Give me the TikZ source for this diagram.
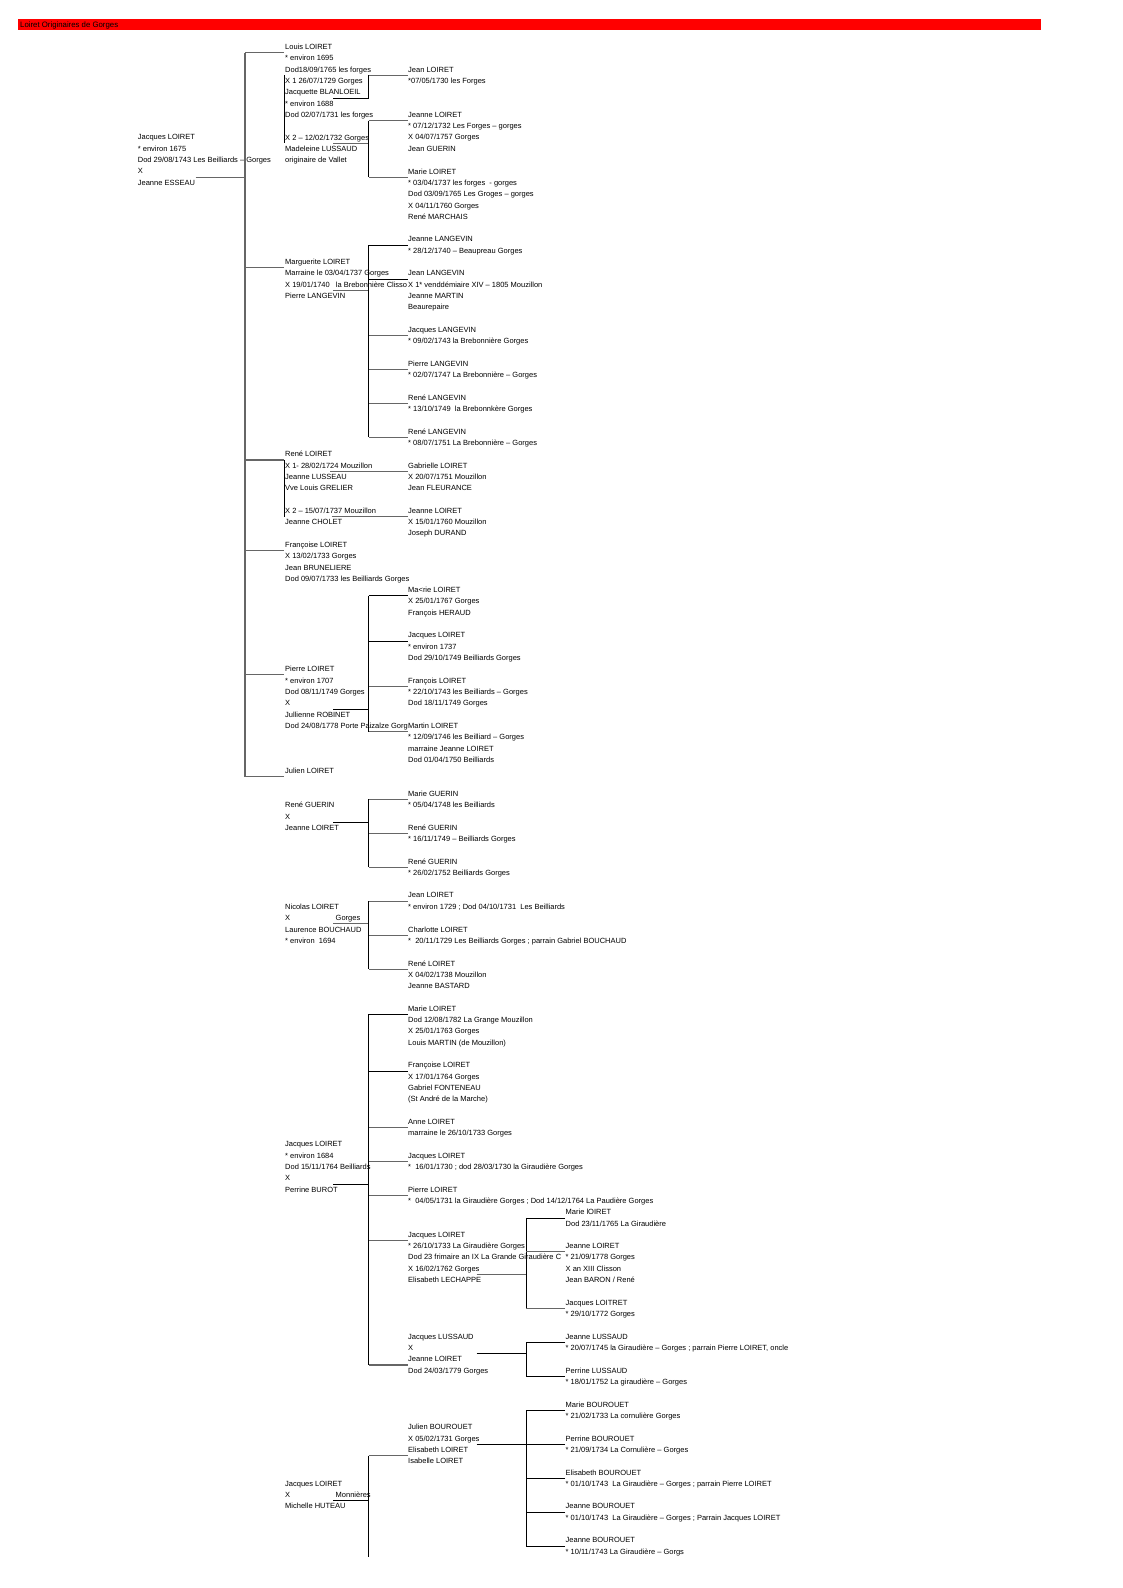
\documentclass[tikz,border=0pt]{standalone}
\usepackage{fontspec}
\setmainfont{Liberation Sans}
\usetikzlibrary{calc}

\begin{document}
\begin{tikzpicture}[x=1pt,y=-11.313pt,
  txt/.style={anchor=north west,yshift=-2.6pt,inner sep=0pt,align=left,font=\fontsize{7.5}{11.313}\selectfont},
  hl/.style={draw=gray!80!black,line width=1.1pt},
  vl/.style={draw=black,line width=0.6pt},
  bus/.style={draw=gray!80!black,line width=1.4pt}]
\useasboundingbox (0,-3.66) rectangle (1123,136.71);
\fill[red] (18.2,-2) rectangle (1041,-1);
\node[txt,font=\fontsize{7.8}{11.313}\selectfont] (title) at (20,-2) {Loiret Originaires de Gorges};

\node[txt] (jacques) at (137.7,8) {Jacques LOIRET\\* environ 1675\\Dod 29/08/1743 Les Beilliards – Gorges\\X\\Jeanne ESSEAU};

\node[txt] (louis) at (285,0) {Louis LOIRET\\* environ 1695\\Dod18/09/1765 les forges\\X 1 26/07/1729 Gorges\\Jacquette BLANLOEIL\\* environ 1688\\Dod 02/07/1731 les forges\\\mbox{}\\X 2 – 12/02/1732 Gorges\\Madeleine LUSSAUD\\originaire de Vallet};
\node[txt] (marg) at (285,19) {Marguerite LOIRET\\Marraine le 03/04/1737 Gorges\\X 19/01/1740\\Pierre LANGEVIN};
\node[txt] (margplace) at (335.7,21) {la Brebonnière Clisso};
\node[txt] (rene) at (285,36) {René LOIRET\\X 1- 28/02/1724 Mouzillon\\Jeanne LUSSEAU\\Vve Louis GRELIER\\\mbox{}\\X 2 – 15/07/1737 Mouzillon\\Jeanne CHOLET};
\node[txt] (franc) at (285,44) {Françoise LOIRET\\X 13/02/1733 Gorges\\Jean BRUNELIERE\\Dod 09/07/1733 les Beilliards Gorges};
\node[txt] (pierre) at (285,55) {Pierre LOIRET\\* environ 1707\\Dod 08/11/1749 Gorges\\X\\Jullienne ROBINET\\Dod 24/08/1778 Porte Paizalze Gorg};
\node[txt] (julien) at (285,64) {Julien LOIRET};
\node[txt] (guerin) at (285,67) {René GUERIN\\X\\Jeanne LOIRET};
\node[txt] (nicolas) at (285,76) {Nicolas LOIRET\\X\\Laurence BOUCHAUD\\* environ\ \ 1694};
\node[txt] (nicplace) at (335.5,77) {Gorges};
\node[txt] (jacqb) at (285,97) {Jacques LOIRET\\* environ 1684\\Dod 15/11/1764 Beilliards\\X\\Perrine BUROT};
\node[txt] (jacqc) at (285,127) {Jacques LOIRET\\X\\Michelle HUTEAU};
\node[txt] (jacqplace) at (335.5,128) {Monnières};

\node[txt] (jean) at (408,2) {Jean LOIRET\\*07/05/1730 les Forges};
\node[txt] (jeanne) at (408,6) {Jeanne LOIRET\\* 07/12/1732 Les Forges – gorges\\X 04/07/1757 Gorges\\Jean GUERIN};
\node[txt] (marie) at (408,11) {Marie LOIRET\\* 03/04/1737 les forges\ \ - gorges\\Dod 03/09/1765 Les Groges – gorges\\X 04/11/1760 Gorges\\René MARCHAIS};
\node[txt] (jeannel) at (408,17) {Jeanne LANGEVIN\\* 28/12/1740 – Beaupreau Gorges};
\node[txt] (jeanl) at (408,20) {Jean LANGEVIN\\X 1* venddémiaire XIV – 1805 Mouzillon\\Jeanne MARTIN\\Beaurepaire};
\node[txt] (jacquesl) at (408,25) {Jacques LANGEVIN\\* 09/02/1743 la Brebonnière Gorges};
\node[txt] (pierrel) at (408,28) {Pierre LANGEVIN\\* 02/07/1747 La Brebonnière – Gorges};
\node[txt] (renel) at (408,31) {René LANGEVIN\\* 13/10/1749\ \ la Brebonnkère Gorges};
\node[txt] (renelb) at (408,34) {René LANGEVIN\\* 08/07/1751 La Brebonnière – Gorges};
\node[txt] (gabri) at (408,37) {Gabrielle LOIRET\\X 20/07/1751 Mouzillon\\Jean FLEURANCE};
\node[txt] (jeanner) at (408,41) {Jeanne LOIRET\\X 15/01/1760 Mouzillon\\Joseph DURAND};
\node[txt] (mariep) at (408,48) {Ma<rie LOIRET\\X 25/01/1767 Gorges\\François HERAUD};
\node[txt] (jacquesp) at (408,52) {Jacques LOIRET\\* environ 1737\\Dod 29/10/1749 Beilliards Gorges};
\node[txt] (francp) at (408,56) {François LOIRET\\* 22/10/1743 les Beilliards – Gorges\\Dod 18/11/1749 Gorges};
\node[txt] (martin) at (408,60) {Martin LOIRET\\* 12/09/1746 les Beilliard – Gorges\\marraine Jeanne LOIRET\\Dod 01/04/1750 Beilliards};
\node[txt] (marieg) at (408,66) {Marie GUERIN\\* 05/04/1748 les Beilliards};
\node[txt] (reneg) at (408,69) {René GUERIN\\* 16/11/1749 – Beilliards Gorges};
\node[txt] (renegb) at (408,72) {René GUERIN\\* 26/02/1752 Beilliards Gorges};
\node[txt] (jeann) at (408,75) {Jean LOIRET\\* environ 1729 ; Dod 04/10/1731\ \ Les Beilliards};
\node[txt] (charl) at (408,78) {Charlotte LOIRET\\*\ \ 20/11/1729 Les Beilliards Gorges ; parrain Gabriel BOUCHAUD};
\node[txt] (renen) at (408,81) {René LOIRET\\X 04/02/1738 Mouzillon\\Jeanne BASTARD};
\node[txt] (mariej) at (408,85) {Marie LOIRET\\Dod 12/08/1782 La Grange Mouzillon\\X 25/01/1763 Gorges\\Louis MARTIN (de Mouzillon)};
\node[txt] (francj) at (408,90) {Françoise LOIRET\\X 17/01/1764 Gorges\\Gabriel FONTENEAU\\(St André de la Marche)};
\node[txt] (anne) at (408,95) {Anne LOIRET\\marraine le 26/10/1733 Gorges};
\node[txt] (jacquesj) at (408,98) {Jacques LOIRET\\*\ \ 16/01/1730 ; dod 28/03/1730 la Giraudière Gorges};
\node[txt] (pierrej) at (408,101) {Pierre LOIRET\\*\ \ 04/05/1731 la Giraudière Gorges ; Dod 14/12/1764 La Paudière Gorges};
\node[txt] (jacquesjb) at (408,105) {Jacques LOIRET\\* 26/10/1733 La Giraudière Gorges\\Dod 23 frimaire an IX La Grande Giraudière C\\X 16/02/1762 Gorges\\Elisabeth LECHAPPE};
\node[txt] (lussaud) at (408,114) {Jacques LUSSAUD\\X\\Jeanne LOIRET\\Dod 24/03/1779 Gorges};
\node[txt] (julienb) at (408,122) {Julien BOUROUET\\X 05/02/1731 Gorges\\Elisabeth LOIRET\\Isabelle LOIRET};

\node[txt] (mariel) at (565.5,103) {Marie lOIRET\\Dod 23/11/1765 La Giraudière};
\node[txt] (jeannej) at (565.5,106) {Jeanne LOIRET\\* 21/09/1778 Gorges\\X an XIII Clisson\\Jean BARON / René};
\node[txt] (loitret) at (565.5,111) {Jacques LOITRET\\* 29/10/1772 Gorges};
\node[txt] (jeannelu) at (565.5,114) {Jeanne LUSSAUD\\* 20/07/1745 la Giraudière – Gorges ; parrain Pierre LOIRET, oncle};
\node[txt] (perrinelu) at (565.5,117) {Perrine LUSSAUD\\* 18/01/1752 La giraudière – Gorges};
\node[txt] (marieb) at (565.5,120) {Marie BOUROUET\\* 21/02/1733 La cornulière Gorges};
\node[txt] (perrineb) at (565.5,123) {Perrine BOUROUET\\* 21/09/1734 La Cornulière – Gorges};
\node[txt] (elisb) at (565.5,126) {Elisabeth BOUROUET\\* 01/10/1743\ \ La Giraudière – Gorges ; parrain Pierre LOIRET};
\node[txt] (jeanneb) at (565.5,129) {Jeanne BOUROUET\\* 01/10/1743\ \ La Giraudière – Gorges ; Parrain Jacques LOIRET};
\node[txt] (jeannebb) at (565.5,132) {Jeanne BOUROUET\\* 10/11/1743 La Giraudière – Gorgs};

\draw[hl] ($(jacques.north west)+(58,3.77)$) -- ++(49.3,0);
\draw[bus] ($(louis.north west)+(-40,0.77)$) -- ($(julien.north west)+(-40,0.77)$);
\draw[hl] ($(louis.north west)+(-1,0.77)$) -- ++(-39,0);
\draw[hl] ($(marg.north west)+(-1,0.77)$) -- ++(-39,0);
\draw[hl] ($(rene.north west)+(-1,0.77)$) -- ++(-39,0);
\draw[hl] ($(franc.north west)+(-1,0.77)$) -- ++(-39,0);
\draw[hl] ($(pierre.north west)+(-1,0.77)$) -- ++(-39,0);
\draw[hl] ($(julien.north west)+(-1,0.77)$) -- ++(-39,0);

\draw[vl] ($(louis.north west)+(-1,2.77)$) -- ($(louis.north west)+(-1,8.77)$);
\draw[vl] ($(louis.north west)+(48,4.77)$) -- ++(35.5,0) -- ($(jean.north west)+(-39.5,0.77)$);
\draw[hl] ($(jean.north west)+(-0.5,0.77)$) -- ++(-39,0);
\draw[hl] ($(louis.north west)+(48,8.77)$) -- ++(35.5,0);
\draw[vl] ($(jeanne.north west)+(-39.5,0.77)$) -- ($(marie.north west)+(-39.5,0.77)$);
\draw[hl] ($(jeanne.north west)+(-0.5,0.77)$) -- ++(-39,0);
\draw[hl] ($(marie.north west)+(-0.5,0.77)$) -- ++(-39,0);

\draw[hl] ($(marg.north west)+(48,2.77)$) -- ++(35.5,0);
\draw[vl] ($(jeannel.north west)+(-39.5,0.77)$) -- ($(renelb.north west)+(-39.5,0.77)$);
\draw[vl] ($(jeannel.north west)+(-0.5,0.77)$) -- ++(-39,0);
\draw[vl] ($(jeanl.north west)+(-0.5,0.77)$) -- ++(-39,0);
\draw[hl] ($(jacquesl.north west)+(-0.5,0.77)$) -- ++(-39,0);
\draw[hl] ($(pierrel.north west)+(-0.5,0.77)$) -- ++(-39,0);
\draw[hl] ($(renel.north west)+(-0.5,0.77)$) -- ++(-39,0);
\draw[hl] ($(renelb.north west)+(-0.5,0.77)$) -- ++(-39,0);

\draw[vl] ($(rene.north west)+(-1,0.77)$) -- ++(0,5);
\draw[hl] ($(rene.north west)+(45,1.77)$) -- ($(gabri.north west)+(-0.5,0.77)$);
\draw[hl] ($(rene.north west)+(46.5,5.77)$) -- ($(jeanner.north west)+(-0.5,0.77)$);

\draw[vl] ($(pierre.north west)+(48,3.77)$) -- ++(35.5,0);
\draw[vl] ($(mariep.north west)+(-39.5,0.77)$) -- ($(martin.north west)+(-39.5,0.77)$);
\draw[vl] ($(mariep.north west)+(-0.5,0.77)$) -- ++(-39,0);
\draw[vl] ($(jacquesp.north west)+(-0.5,0.77)$) -- ++(-39,0);
\draw[hl] ($(francp.north west)+(-0.5,0.77)$) -- ++(-39,0);
\draw[hl] ($(martin.north west)+(-0.5,0.77)$) -- ++(-39,0);

\draw[vl] ($(guerin.north west)+(48,1.77)$) -- ++(35.5,0);
\draw[vl] ($(marieg.north west)+(-39.5,0.77)$) -- ($(renegb.north west)+(-39.5,0.77)$);
\draw[hl] ($(marieg.north west)+(-0.5,0.77)$) -- ++(-39,0);
\draw[hl] ($(reneg.north west)+(-0.5,0.77)$) -- ++(-39,0);
\draw[hl] ($(renegb.north west)+(-0.5,0.77)$) -- ++(-39,0);

\draw[hl] ($(nicolas.north west)+(48,1.77)$) -- ++(35.5,0);
\draw[vl] ($(jeann.north west)+(-39.5,0.77)$) -- ($(renen.north west)+(-39.5,0.77)$);
\draw[hl] ($(jeann.north west)+(-0.5,0.77)$) -- ++(-39,0);
\draw[hl] ($(charl.north west)+(-0.5,0.77)$) -- ++(-39,0);
\draw[hl] ($(renen.north west)+(-0.5,0.77)$) -- ++(-39,0);

\draw[vl] ($(jacqb.north west)+(48,3.77)$) -- ++(35.5,0);
\draw[vl] ($(mariej.north west)+(-39.5,0.77)$) -- ($(lussaud.north west)+(-39.5,2.77)$);
\draw[vl] ($(mariej.north west)+(-0.5,0.77)$) -- ++(-39,0);
\draw[vl] ($(francj.north west)+(-0.5,0.77)$) -- ++(-39,0);
\draw[hl] ($(anne.north west)+(-0.5,0.77)$) -- ++(-39,0);
\draw[hl] ($(jacquesj.north west)+(-0.5,0.77)$) -- ++(-39,0);
\draw[hl] ($(pierrej.north west)+(-0.5,0.77)$) -- ++(-39,0);
\draw[hl] ($(jacquesjb.north west)+(-0.5,0.77)$) -- ++(-39,0);
\draw[hl] ($(lussaud.north west)+(-0.5,2.77)$) -- ++(-39,0);

\draw[hl] ($(jacquesjb.north west)+(68.7,3.77)$) -- ++(49.3,0);
\draw[vl] ($(mariel.north west)+(-39.5,0.77)$) -- ($(loitret.north west)+(-39.5,0.77)$);
\draw[vl] ($(mariel.north west)+(-0.5,0.77)$) -- ++(-39,0);
\draw[hl] ($(jeannej.north west)+(-0.5,0.77)$) -- ++(-39,0);
\draw[hl] ($(loitret.north west)+(-0.5,0.77)$) -- ++(-39,0);

\draw[vl] ($(lussaud.north west)+(68.7,1.77)$) -- ++(49.3,0);
\draw[vl] ($(jeannelu.north west)+(-39.5,0.77)$) -- ($(perrinelu.north west)+(-39.5,0.77)$);
\draw[vl] ($(jeannelu.north west)+(-0.5,0.77)$) -- ++(-39,0);
\draw[vl] ($(perrinelu.north west)+(-0.5,0.77)$) -- ++(-39,0);

\draw[vl] ($(jacqc.north west)+(48,1.77)$) -- ++(35.5,0);
\draw[vl] ($(julienb.north west)+(-39.5,2.77)$) -- ($(julienb.north west)+(-39.5,11.77)$);
\draw[hl] ($(julienb.north west)+(-0.5,2.77)$) -- ++(-39,0);
\draw[vl] ($(julienb.north west)+(68.7,1.77)$) -- ++(49.3,0);
\draw[vl] ($(marieb.north west)+(-39.5,0.77)$) -- ($(jeannebb.north west)+(-39.5,0.77)$);
\draw[vl] ($(marieb.north west)+(-0.5,0.77)$) -- ++(-39,0);
\draw[vl] ($(perrineb.north west)+(-0.5,0.77)$) -- ++(-39,0);
\draw[vl] ($(elisb.north west)+(-0.5,0.77)$) -- ++(-39,0);
\draw[vl] ($(jeanneb.north west)+(-0.5,0.77)$) -- ++(-39,0);
\draw[vl] ($(jeannebb.north west)+(-0.5,0.77)$) -- ++(-39,0);
\end{tikzpicture}
\end{document}
